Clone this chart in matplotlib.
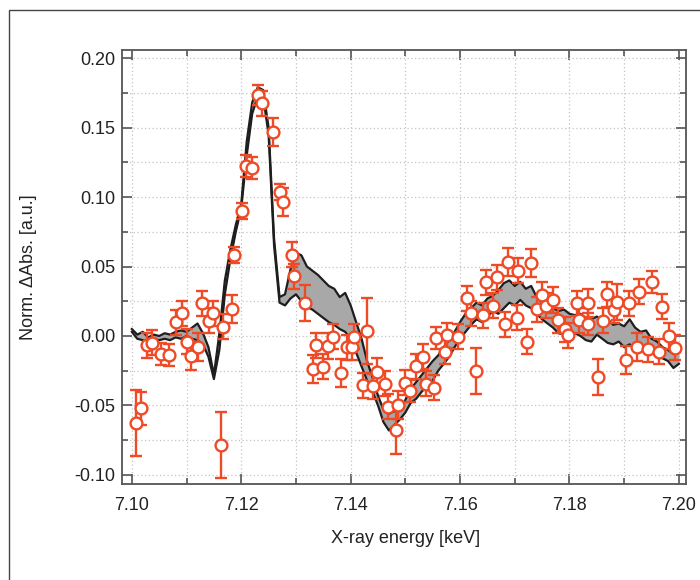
import numpy as np
import matplotlib
matplotlib.use("Agg")
import matplotlib.pyplot as plt
from matplotlib.ticker import MultipleLocator, FormatStrFormatter
from matplotlib.patches import Rectangle

plt.rcParams['font.family'] = ['Liberation Sans', 'DejaVu Sans']
plt.rcParams['axes.unicode_minus'] = False

# ---- simulated band (two curves) on a 1 eV grid ----
x_grid = [7.100 + 0.001 * i for i in range(101)]
upper = [0.005, 0.001, 0.003, -0.001, 0.001, 0.000, 0.002, 0.001, 0.003, 0.004,
         0.003, 0.006, 0.009, 0.002, -0.008, -0.028, 0.002, 0.040, 0.062, 0.080,
         0.095, 0.140, 0.168, 0.179, 0.177, 0.150, 0.070, 0.028, 0.030, 0.048,
         0.060, 0.058, 0.050, 0.047, 0.044, 0.040, 0.036, 0.034, 0.028, 0.031,
         0.022, 0.010, -0.002, -0.018, -0.030, -0.043, -0.053, -0.056, -0.054, -0.052,
         -0.046, -0.038, -0.033, -0.028, -0.023, -0.018, -0.014, -0.008, -0.003, 0.003,
         0.010, 0.016, 0.020, 0.024, 0.022, 0.027, 0.029, 0.033, 0.038, 0.040,
         0.036, 0.039, 0.034, 0.036, 0.028, 0.024, 0.022, 0.020, 0.018, 0.019,
         0.016, 0.015, 0.016, 0.013, 0.012, 0.014, 0.011, 0.012, 0.008, 0.009,
         0.007, 0.012, 0.006, 0.003, 0.004, -0.002, -0.004, -0.008, -0.010, -0.013,
         -0.012]
lower = [0.003, -0.002, -0.003, -0.005, -0.002, -0.003, -0.002, -0.003, -0.001, -0.002,
         0.000, -0.002, -0.003, -0.006, -0.015, -0.031, -0.010, 0.030, 0.055, 0.075,
         0.092, 0.130, 0.160, 0.172, 0.172, 0.145, 0.065, 0.024, 0.022, 0.027,
         0.030, 0.025, 0.021, 0.019, 0.016, 0.013, 0.010, 0.008, 0.005, 0.003,
         -0.002, -0.012, -0.022, -0.032, -0.040, -0.050, -0.062, -0.068, -0.064, -0.060,
         -0.055, -0.048, -0.045, -0.040, -0.036, -0.032, -0.025, -0.020, -0.015, -0.008,
         -0.002, 0.003, 0.008, 0.012, 0.010, 0.014, 0.018, 0.016, 0.020, 0.024,
         0.022, 0.026, 0.022, 0.020, 0.016, 0.012, 0.009, 0.006, 0.002, 0.001,
         -0.002, 0.002, 0.000, -0.003, -0.004, 0.001, -0.002, -0.005, -0.006, -0.004,
         -0.008, -0.006, -0.010, -0.008, -0.012, -0.011, -0.015, -0.016, -0.018, -0.023,
         -0.020]

# ---- measured points ----
exp_x = [7.1008, 7.1016, 7.1027, 7.1037, 7.1053, 7.1068, 7.1080, 7.1091, 7.1100, 7.1108,
         7.1121, 7.1128, 7.1141, 7.1148, 7.1163, 7.1166, 7.1183, 7.1186, 7.1201, 7.1208,
         7.1219, 7.1230, 7.1238, 7.1258, 7.1271, 7.1276, 7.1293, 7.1296, 7.1316, 7.1336,
         7.1331, 7.1349, 7.1358, 7.1367, 7.1382, 7.1393, 7.1402, 7.1406, 7.1422, 7.1430,
         7.1441, 7.1448, 7.1463, 7.1468, 7.1483, 7.1486, 7.1499, 7.1508, 7.1519, 7.1532,
         7.1537, 7.1552, 7.1556, 7.1572, 7.1576, 7.1596, 7.1612, 7.1620, 7.1629, 7.1642,
         7.1647, 7.1660, 7.1667, 7.1682, 7.1687, 7.1704, 7.1706, 7.1722, 7.1730, 7.1740,
         7.1750, 7.1757, 7.1770, 7.1779, 7.1792, 7.1797, 7.1814, 7.1817, 7.1834, 7.1834,
         7.1852, 7.1861, 7.1868, 7.1881, 7.1887, 7.1903, 7.1909, 7.1923, 7.1927, 7.1943,
         7.1950, 7.1963, 7.1969, 7.1982, 7.1993]
exp_y = [-0.0626, -0.0520, -0.0065, -0.0050, -0.0130, -0.0137, 0.0100, 0.0165, -0.0043, -0.0144,
         -0.0080, 0.0237, 0.0108, 0.0165, -0.0784, 0.0065, 0.0194, 0.0583, 0.0900, 0.1223,
         0.1209, 0.1734, 0.1676, 0.1468, 0.1036, 0.0964, 0.0583, 0.0430, 0.0237, -0.0065,
         -0.0237, -0.0220, -0.0072, -0.0007, -0.0266, -0.0080, -0.0080, -0.0007, -0.0353, 0.0036,
         -0.0360, -0.0260, -0.0345, -0.0510, -0.0676, -0.0497, -0.0338, -0.0396, -0.0216, -0.0151,
         -0.0345, -0.0374, -0.0014, -0.0115, 0.0007, -0.0007, 0.0273, 0.0165, -0.0252, 0.0150,
         0.0388, 0.0216, 0.0424, 0.0086, 0.0532, 0.0130, 0.0468, -0.0043, 0.0525, 0.0194,
         0.0295, 0.0216, 0.0259, 0.0115, 0.0050, 0.0007, 0.0237, 0.0115, 0.0237, 0.0086,
         -0.0295, 0.0108, 0.0302, 0.0187, 0.0245, -0.0173, 0.0237, -0.0080, 0.0317, -0.0094,
         0.0388, -0.0115, 0.0209, 0.0000, -0.0086]
exp_err = [0.0235, 0.012, 0.009, 0.009, 0.008, 0.008, 0.009, 0.009, 0.009, 0.010,
           0.010, 0.009, 0.009, 0.009, 0.024, 0.009, 0.010, 0.006, 0.006, 0.008,
           0.008, 0.007, 0.009, 0.010, 0.006, 0.010, 0.009, 0.009, 0.013, 0.009,
           0.010, 0.009, 0.009, 0.009, 0.010, 0.009, 0.009, 0.009, 0.009, 0.024,
           0.009, 0.010, 0.009, 0.009, 0.017, 0.010, 0.009, 0.008, 0.009, 0.009,
           0.009, 0.009, 0.008, 0.009, 0.009, 0.009, 0.009, 0.009, 0.0165, 0.009,
           0.009, 0.009, 0.009, 0.009, 0.010, 0.009, 0.009, 0.009, 0.010, 0.009,
           0.009, 0.009, 0.009, 0.009, 0.009, 0.009, 0.009, 0.009, 0.010, 0.008,
           0.013, 0.009, 0.009, 0.009, 0.013, 0.010, 0.009, 0.010, 0.009, 0.009,
           0.008, 0.009, 0.009, 0.009, 0.009]

x_ticks = [7.10, 7.12, 7.14, 7.16, 7.18, 7.20]
y_ticks = [-0.10, -0.05, 0.00, 0.05, 0.10, 0.15, 0.20]

RED = '#ef4a26'
AX = '#555555'

fig = plt.figure(figsize=(7.0, 5.8), dpi=100)
# outer frame
fig.patches.append(Rectangle((9 / 700, -0.2), 1.2, 0.2 + 570 / 580, transform=fig.transFigure,
                             fill=False, edgecolor='#444444', lw=1.0))

ax = fig.add_axes([122 / 700, 96 / 580, 564 / 700, 434 / 580])
ax.set_axisbelow(True)

ax.fill_between(x_grid, upper, lower, color='#a8a8a8', lw=0, zorder=2)
ax.plot(x_grid, upper, color='#1e1e1e', lw=1.6, zorder=3)
ax.plot(x_grid, lower, color='#1e1e1e', lw=1.6, zorder=3)

ax.errorbar(exp_x, exp_y, yerr=exp_err, fmt='o', ms=8.5, mfc='white', mec=RED, mew=1.7,
            ecolor=RED, elinewidth=1.7, capsize=4.5, capthick=1.7, zorder=4)

ax.set_xlim(7.0982, 7.2013)
ax.set_ylim(-0.1065, 0.2058)
ax.set_xticks(x_ticks)
ax.set_yticks(y_ticks)
ax.xaxis.set_minor_locator(MultipleLocator(0.01))
ax.yaxis.set_minor_locator(MultipleLocator(0.025))
ax.xaxis.set_major_formatter(FormatStrFormatter('%.2f'))
ax.yaxis.set_major_formatter(FormatStrFormatter('%.2f'))

ax.grid(True, which='both', ls=(0, (1, 2)), color='#c4c4c4', lw=0.9)
ax.tick_params(which='both', direction='in', top=True, right=True, color=AX, width=1.2)
ax.tick_params(which='major', length=7)
ax.tick_params(which='minor', length=4)
ax.tick_params(axis='x', labelsize=13, pad=9, labelcolor='#222222')
ax.tick_params(axis='y', labelsize=13, pad=5, labelcolor='#222222')
for s in ax.spines.values():
    s.set_color(AX)
    s.set_linewidth(1.3)

ax.set_xlabel('X-ray energy [keV]', fontsize=13, color='#222222')
ax.set_ylabel('Norm. ΔAbs. [a.u.]', fontsize=13, color='#222222')
ax.xaxis.set_label_coords(0.502, -0.105)
ax.yaxis.set_label_coords(-0.15, 0.5)

fig.savefig('out.png', dpi=100)
